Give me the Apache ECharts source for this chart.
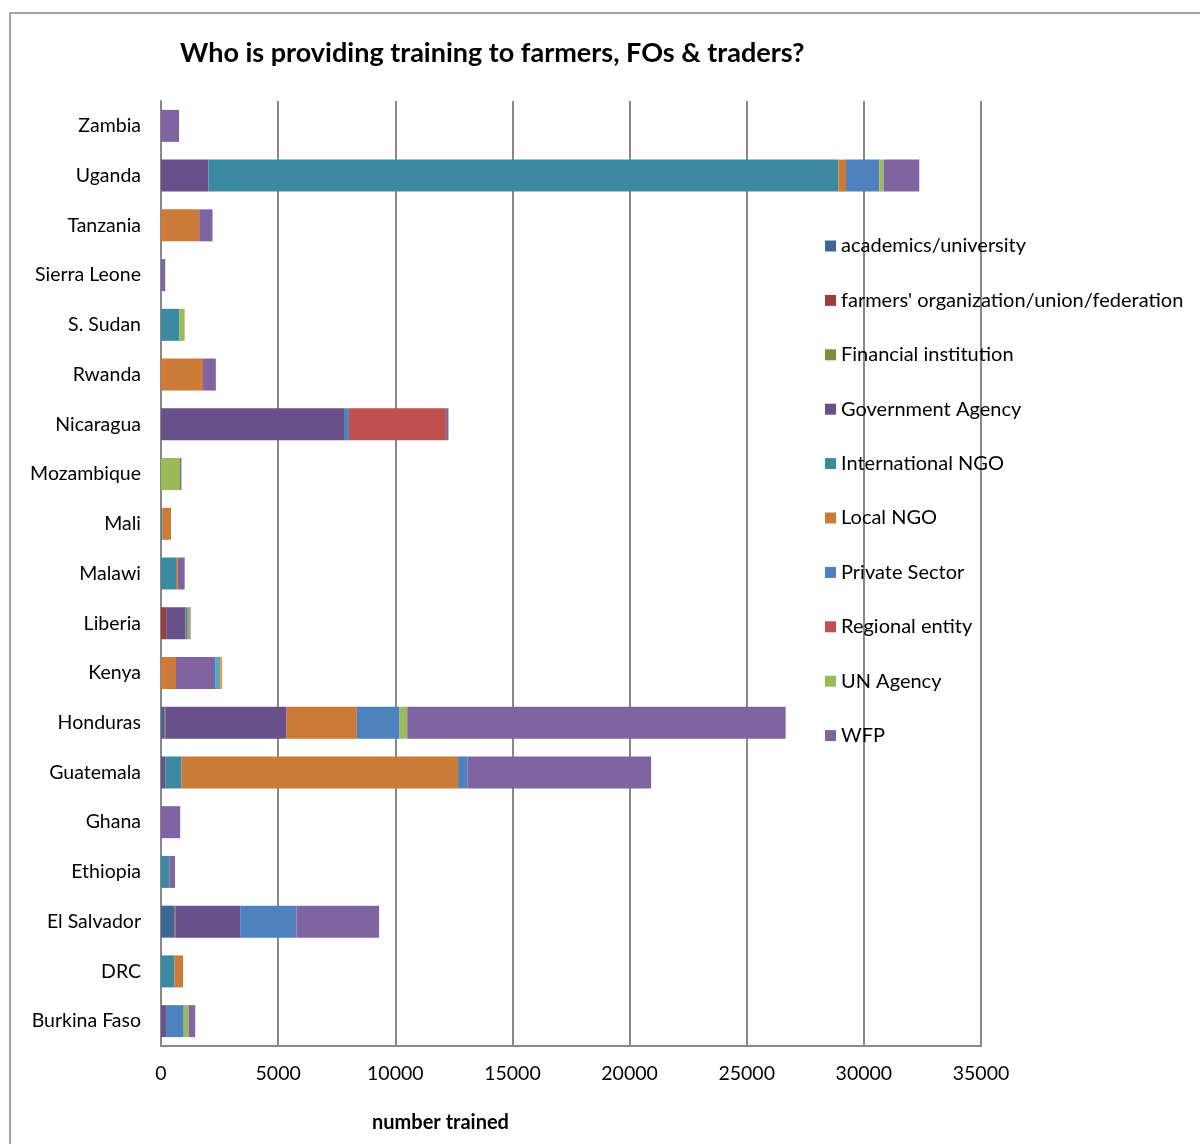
<!DOCTYPE html>
<html>
<head>
<meta charset="utf-8">
<title>Who is providing training</title>
<script src="https://cdn.jsdelivr.net/npm/echarts@6/dist/echarts.min.js"></script>
<style>
  html, body { margin: 0; padding: 0; background: #fff; }
  #chart { width: 1200px; height: 1144px; }
</style>
</head>
<body>
<div id="chart"></div>
<script>
// countries, bottom to top (as in the sheet)
const countries = ['Burkina Faso', 'DRC', 'El Salvador', 'Ethiopia', 'Ghana', 'Guatemala', 'Honduras', 'Kenya',
  'Liberia', 'Malawi', 'Mali', 'Mozambique', 'Nicaragua', 'Rwanda', 'S. Sudan', 'Sierra Leone', 'Tanzania', 'Uganda', 'Zambia']

// number trained by provider type (same order as countries)
const academics = [0, 0, 570, 0, 0, 0, 150, 0, 0, 0, 0, 0, 0, 0, 0, 0, 0, 0, 0]
const farmersOrg = [0, 0, 50, 0, 0, 0, 50, 0, 220, 0, 0, 0, 0, 0, 0, 0, 0, 0, 0]
const financial = [0, 0, 0, 0, 0, 0, 0, 0, 0, 0, 0, 0, 0, 0, 0, 0, 0, 0, 0]
const government = [210, 0, 2760, 0, 0, 180, 5160, 0, 820, 0, 0, 0, 7810, 0, 0, 0, 0, 2020, 0]
const intlNgo = [0, 570, 0, 360, 0, 700, 0, 0, 70, 640, 50, 0, 0, 0, 790, 0, 0, 26890, 0]
const localNgo = [0, 370, 0, 0, 0, 11800, 3000, 640, 40, 80, 380, 0, 0, 1790, 0, 0, 1630, 330, 0]
const privateSector = [760, 0, 2400, 0, 0, 410, 1820, 0, 0, 0, 0, 0, 210, 0, 0, 0, 0, 1420, 0]
const regional = [0, 0, 0, 0, 0, 0, 0, 0, 0, 0, 0, 0, 4140, 0, 0, 0, 0, 0, 0]
const unAgency = [210, 0, 0, 0, 0, 0, 330, 0, 60, 0, 0, 810, 0, 0, 220, 0, 0, 185, 0]
const wfp = [280, 0, 3530, 240, 820, 7830, 16150, 1670, 50, 290, 0, 60, 110, 550, 0, 180, 570, 1520, 770]
// two unnamed series that only show up in Kenya's bar
const series11 = [0, 0, 0, 0, 0, 0, 0, 210, 0, 0, 0, 0, 0, 0, 0, 0, 0, 0, 0]
const series12 = [0, 0, 0, 0, 0, 0, 0, 90, 0, 0, 0, 0, 0, 0, 0, 0, 0, 0, 0]

const seriesNames = ['academics/university', "farmers' organization/union/federation", 'Financial institution',
  'Government Agency', 'International NGO', 'Local NGO', 'Private Sector', 'Regional entity', 'UN Agency', 'WFP',
  'Series 11', 'Series 12']
const seriesData = [academics, farmersOrg, financial, government, intlNgo, localNgo, privateSector, regional,
  unAgency, wfp, series11, series12]
const colors = ['#3E6797', '#9C3D3B', '#77933C', '#68508A', '#3C8AA2', '#CC7A38', '#4F81BD', '#C0504D',
  '#9BBB59', '#8064A2', '#4BACC6', '#F79646']

const fontFamily = 'Lato, "Open Sans", sans-serif'

let myChart = echarts.init(document.getElementById('chart'))
let option = {
  color: colors,
  animation: false,
  title: {
    text: 'Who is providing training to farmers, FOs & traders?',
    left: 175,
    top: 35,
    textStyle: { fontFamily: fontFamily, fontSize: 27, fontWeight: 'bold', color: '#000' }
  },
  legend: {
    data: seriesNames.slice(0, 10), // 只显示前10个
    orient: 'vertical',
    left: 820,
    top: 231,
    icon: 'rect',
    itemWidth: 11,
    itemHeight: 11,
    itemGap: 34.4,
    textStyle: { fontFamily: fontFamily, fontSize: 20, color: '#000', lineHeight: 20 }
  },
  grid: {
    left: 161,
    top: 101,
    width: 820,
    height: 945
  },
  xAxis: {
    type: 'value',
    min: 0,
    max: 35000,
    interval: 5000,
    axisLine: { show: true, lineStyle: { color: '#888', width: 2 } },
    axisTick: { show: false },
    axisLabel: { color: '#000', fontFamily: fontFamily, fontSize: 19.5, margin: 18, formatter: v => String(v) },
    splitLine: { lineStyle: { color: '#888', width: 2 } }
  },
  yAxis: {
    type: 'category',
    data: countries,
    axisLine: { lineStyle: { color: '#888', width: 2 } },
    axisTick: { show: false },
    axisLabel: { color: '#000', fontFamily: fontFamily, fontSize: 19.5, margin: 20 }
  },
  graphic: [
    {
      type: 'rect',
      shape: { x: 10, y: 13, width: 1300, height: 1300 },
      style: { fill: null, stroke: '#888', lineWidth: 1.5 },
      z: -1
    },
    {
      type: 'text',
      left: 372,
      top: 1113,
      style: { text: 'number trained', font: 'bold 20px ' + fontFamily, fill: '#000' }
    }
  ],
  series: seriesData.map((d, i) => ({
    name: seriesNames[i],
    type: 'bar',
    stack: 'total',
    barWidth: 32,
    data: d
  }))
}
myChart.setOption(option)
</script>
</body>
</html>
